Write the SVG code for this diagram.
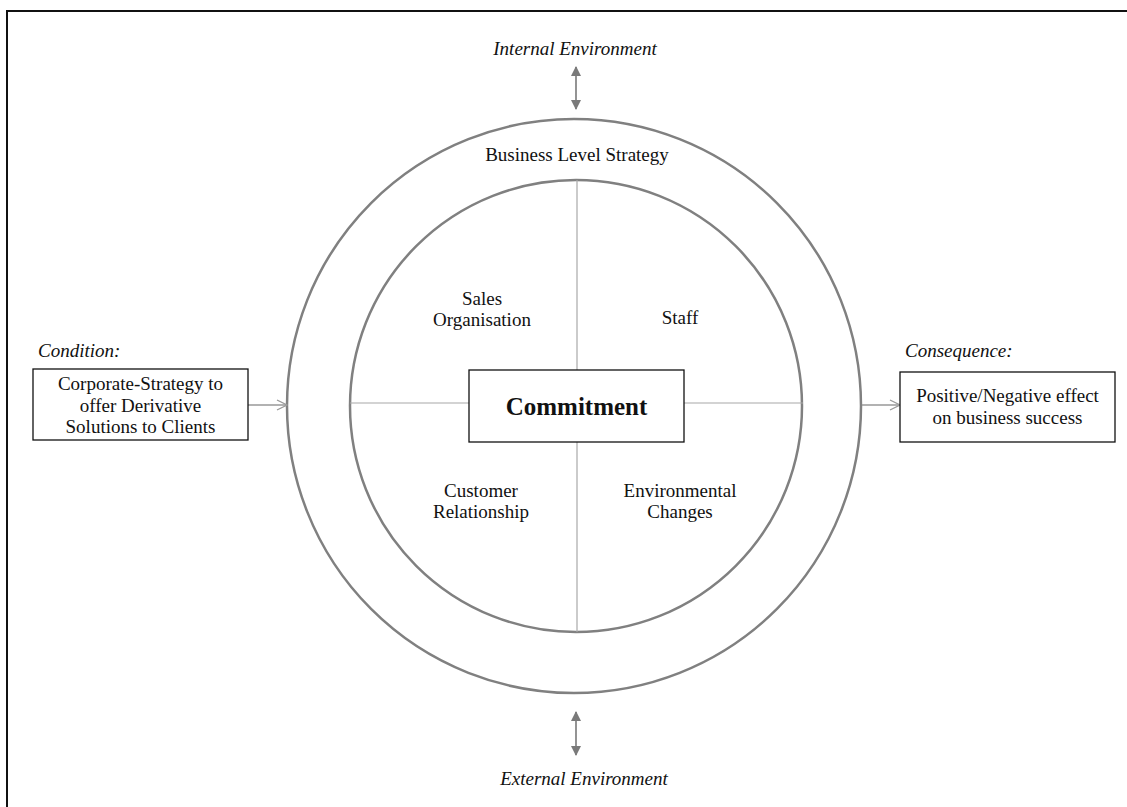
<svg xmlns="http://www.w3.org/2000/svg" width="1127" height="807" viewBox="0 0 1127 807">
<style>
text{font-family:"Liberation Serif","Times New Roman",serif;font-size:19px;fill:#111;}
.it{font-style:italic;}
.c{text-anchor:middle;}
.box{fill:#fff;stroke:#111;stroke-width:1.3;}
.ring{fill:none;stroke:#808080;stroke-width:2.5;}
.div{stroke:#a8a8a8;stroke-width:1.2;}
.open{stroke:#999;stroke-width:1.3;fill:none;}
.dbl{stroke:#888;stroke-width:1.8;}
</style>
<defs>
<marker id="chev" markerWidth="12" markerHeight="12" refX="11" refY="6" orient="auto" markerUnits="userSpaceOnUse">
<path d="M1,1 L11,6 L1,11" fill="none" stroke="#999" stroke-width="1.3"/>
</marker>
<marker id="tri" markerWidth="10" markerHeight="10" refX="9" refY="5" orient="auto-start-reverse" markerUnits="userSpaceOnUse">
<path d="M0,0 L10,5 L0,10 Z" fill="#7a7a7a"/>
</marker>
</defs>
<rect width="1127" height="807" fill="#fff"/>
<g id="frame">
<path d="M7,807 L7,11 L1127,11" fill="none" stroke="#111" stroke-width="2"/>
</g>
<g id="outer-ring">
<circle class="ring" cx="574" cy="406" r="287"/>
<text class="c" x="577" y="161">Business Level Strategy</text>
</g>
<g id="inner-ring">
<circle class="ring" cx="576" cy="406" r="226"/>
</g>
<g id="connectors">
<line class="div" x1="577" y1="180" x2="577" y2="632"/>
<line class="div" x1="350" y1="403" x2="803" y2="403"/>
<line class="open" x1="248" y1="405" x2="287" y2="405" marker-end="url(#chev)"/>
<line class="open" x1="862" y1="405" x2="900" y2="405" marker-end="url(#chev)"/>
<line class="dbl" x1="576" y1="67" x2="576" y2="109" marker-start="url(#tri)" marker-end="url(#tri)"/>
<line class="dbl" x1="576" y1="712" x2="576" y2="755" marker-start="url(#tri)" marker-end="url(#tri)"/>
</g>
<g id="internal-env">
<text class="it c" x="575" y="55">Internal Environment</text>
</g>
<g id="external-env">
<text class="it c" x="584" y="785">External Environment</text>
</g>
<g id="sales-organisation">
<text class="c" x="482" y="305">Sales</text>
<text class="c" x="482" y="326">Organisation</text>
</g>
<g id="staff">
<text class="c" x="680" y="324">Staff</text>
</g>
<g id="customer-relationship">
<text class="c" x="481" y="497">Customer</text>
<text class="c" x="481" y="518">Relationship</text>
</g>
<g id="environmental-changes">
<text class="c" x="680" y="497">Environmental</text>
<text class="c" x="680" y="518">Changes</text>
</g>
<g id="commitment">
<rect class="box" x="469" y="370" width="215" height="72"/>
<text class="c" x="576.5" y="415" style="font-weight:bold;font-size:25px">Commitment</text>
</g>
<g id="condition">
<text class="it" x="38" y="357">Condition:</text>
<rect class="box" x="33" y="369" width="215" height="71"/>
<text class="c" x="140.5" y="390">Corporate-Strategy to</text>
<text class="c" x="140.5" y="412">offer Derivative</text>
<text class="c" x="140.5" y="433">Solutions to Clients</text>
</g>
<g id="consequence">
<text class="it" x="905" y="357">Consequence:</text>
<rect class="box" x="900" y="372" width="215" height="70"/>
<text class="c" x="1007.5" y="402">Positive/Negative effect</text>
<text class="c" x="1007.5" y="424">on business success</text>
</g>
</svg>
